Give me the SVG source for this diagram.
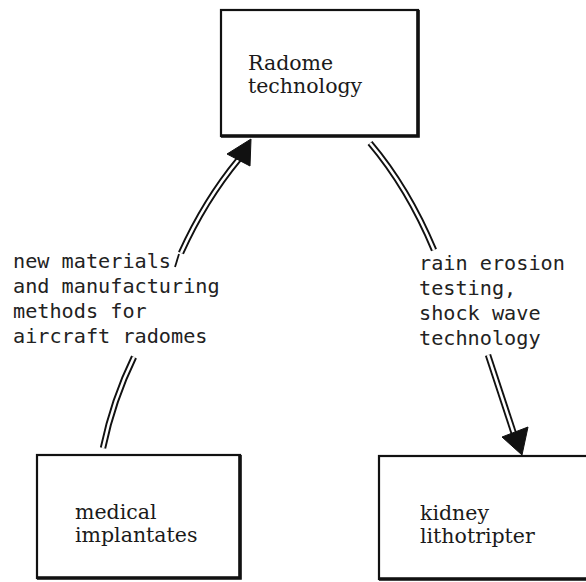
<svg xmlns="http://www.w3.org/2000/svg" width="586" height="582" viewBox="0 0 586 582">
<style>
.box{fill:#fff;stroke:#111;stroke-width:2.2}
.shadow{fill:none;stroke:#111;stroke-width:3.6}
.serif{font-family:"DejaVu Serif","Liberation Serif",serif;font-size:20.5px;fill:#1a1a1a}
.mono{font-family:"DejaVu Sans Mono","Liberation Mono",monospace;font-size:20.2px;fill:#222}
.outer{fill:none;stroke:#111;stroke-width:6.4}
.inner{fill:none;stroke:#fff;stroke-width:2.6}
.single{fill:none;stroke:#111;stroke-width:1.8}
.head{fill:#111;stroke:#111;stroke-width:1;stroke-linejoin:round}
</style>
<rect width="586" height="582" fill="#fff"/>
<g id="connectors">
  <g id="edge-left">
    <path class="outer" d="M103,448 Q113,400 134,357"/>
    <path class="inner" d="M103,448 Q113,400 134,357"/>
    <path class="outer" d="M181,253 Q205,200 239,159"/>
    <path class="inner" d="M181,253 Q205,200 239,159"/>
    <path class="single" d="M179,254 L175,267"/>
    <polygon class="head" points="251,139 227,154 250,166"/>
  </g>
  <g id="edge-right">
    <path class="outer" d="M370,143 Q408,188 434,250"/>
    <path class="inner" d="M370,143 Q408,188 434,250"/>
    <path class="outer" d="M488,355 Q500,392 514,434"/>
    <path class="inner" d="M488,355 Q500,392 514,434"/>
    <polygon class="head" points="522,455 502,437 528,427"/>
  </g>
</g>
<g id="label-left" class="mono">
  <text x="13" y="268">new materials</text>
  <text x="13" y="293">and manufacturing</text>
  <text x="13" y="318">methods for</text>
  <text x="13" y="343">aircraft radomes</text>
</g>
<g id="label-right" class="mono">
  <text x="419" y="270">rain erosion</text>
  <text x="419" y="295">testing,</text>
  <text x="419" y="320">shock wave</text>
  <text x="419" y="345">technology</text>
</g>
<g id="node-radome">
  <rect class="box" x="221" y="10" width="197" height="126"/>
  <path class="shadow" d="M418,10 L418,136 L221,136"/>
  <text class="serif" x="248" y="70">Radome</text>
  <text class="serif" x="248" y="93">technology</text>
</g>
<g id="node-medical">
  <rect class="box" x="37" y="455" width="203" height="123"/>
  <path class="shadow" d="M240,455 L240,578 L37,578"/>
  <text class="serif" x="75" y="519">medical</text>
  <text class="serif" x="75" y="542">implantates</text>
</g>
<g id="node-kidney">
  <rect class="box" x="379" y="456" width="220" height="123"/>
  <path class="shadow" d="M379,579 L599,579"/>
  <text class="serif" x="420" y="520">kidney</text>
  <text class="serif" x="420" y="543">lithotripter</text>
</g>
</svg>
